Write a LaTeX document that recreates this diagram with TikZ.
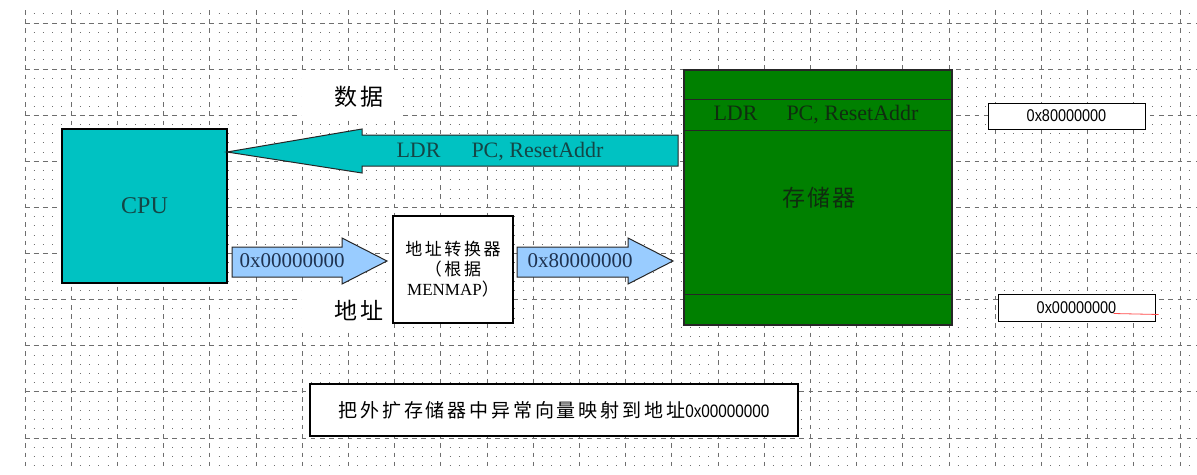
\documentclass[tikz,border=0pt]{standalone}
\usepackage{fontspec}
\setmainfont{Liberation Serif}
\newfontfamily\cjkfont[LetterSpace=9]{Noto Sans CJK SC}
\newfontfamily\cjkwide[LetterSpace=15]{Noto Sans CJK SC}
\newfontfamily\hexfont[FakeStretch=0.85]{Liberation Sans}
\usetikzlibrary{positioning}

\definecolor{cputeal}{RGB}{0,194,194}
\definecolor{memgreen}{RGB}{0,128,0}
\definecolor{addrblue}{RGB}{153,204,255}
\definecolor{gridgray}{RGB}{110,110,110}
\definecolor{tealtext}{RGB}{20,70,70}
\definecolor{greentext}{RGB}{15,45,15}
\definecolor{addrtext}{RGB}{30,50,80}

\begin{document}
\begin{tikzpicture}[
  x=1pt, y=-1pt,
  box/.style={rectangle, draw=black, line width=1.2pt, inner sep=0pt},
  cpubox/.style={box, fill=cputeal, text=tealtext, font=\fontsize{24}{24}\selectfont},
  membox/.style={box, fill=memgreen, draw=black!85},
  whitebox/.style={box, fill=white},
  hexbox/.style={whitebox, line width=1pt, font=\hexfont\fontsize{17}{17}\selectfont},
  tag/.style={inner sep=0pt, font=\cjkfont\fontsize{23}{23}\selectfont},
  memline/.style={black!85, line width=1.2pt},
  fatarrow/.style={draw=black!85, line width=1pt},
  minor/.style={gridgray, line width=0.8pt, dash pattern=on 0.9pt off 8.34pt},
  major/.style={gridgray, line width=0.7pt, dash pattern=on 4.5pt off 4.72pt}
]
\useasboundingbox (0,0) rectangle (1197,474);
\fill[white] (0,0) rectangle (1197,474);

% grid
\foreach \j in {-1,...,48}
  \draw[minor] (24.5,23+9.22*\j) -- (1197,23+9.22*\j);
\foreach \k in {0,...,9}
  \draw[major] (25,23+46.1*\k) -- (1197,23+46.1*\k);
\foreach \k in {0,...,25}
  \draw[major] (25+46.2*\k,10) -- (25+46.2*\k,468);

\fill[white] (302,73) rectangle (400,116);
\fill[white] (302,285) rectangle (393,332);
\node[tag] (datatag) at (359,97) {数据};
\node[tag] (addrtag) at (359,310) {地址};

\node[cpubox, minimum width=165, minimum height=154] (cpu) at (144.5,206) {CPU};

\node[membox, minimum width=268, minimum height=255] (mem) at (818,197.5) {};
\draw[memline] ([yshift=-30pt]mem.north west) -- ([yshift=-30pt]mem.north east);
\draw[memline] ([yshift=-61pt]mem.north west) -- ([yshift=-61pt]mem.north east);
\draw[memline] ([yshift=31pt]mem.south west) -- ([yshift=31pt]mem.south east);
\node[text=greentext, font=\fontsize{22}{22}\selectfont] (memldr) at (816,115) {LDR\hspace{29pt}PC, ResetAddr};
\node[tag, text=greentext] (memname) at (819,198) {存储器};

% data path
\draw[fatarrow, fill=cputeal] (227,152) -- (362,129) -- (362,135) -- (678,135)
  -- (678,166) -- (362,166) -- (362,173) -- cycle;
\node[text=tealtext, font=\fontsize{22}{22}\selectfont] (fetch) at (500,152) {LDR\hspace{31pt}PC, ResetAddr};

% address path
\draw[fatarrow, fill=addrblue] (232,247) -- (342,247) -- (342,238) -- (387,261)
  -- (342,284) -- (342,277) -- (232,277) -- cycle;
\node[text=addrtext, font=\fontsize{21}{21}\selectfont] (vaddr) at (292,261) {0x00000000};

\node[whitebox, minimum width=120, minimum height=107, align=center,
  font=\fontsize{17}{20}\selectfont] (conv) at (453,269.5)
  {{\cjkwide 地址转换器}\\{\cjkwide （根据}\\MENMAP{\cjkwide ）}};

\draw[fatarrow, fill=addrblue] (517,247) -- (628,247) -- (628,238) -- (673,261)
  -- (628,284) -- (628,277) -- (517,277) -- cycle;
\node[text=addrtext, font=\fontsize{21}{21}\selectfont] (paddr) at (580,261) {0x80000000};

\node[hexbox, minimum width=157, minimum height=26] (hiaddr) at (1066.5,116) {0x80000000};
\node[hexbox, minimum width=157, minimum height=27] (loaddr) at (1076.5,307.5) {0x00000000};
\draw[red!70, line width=0.8pt] ([xshift=-42pt, yshift=-6pt]loaddr.east) -- ([xshift=3pt, yshift=-7pt]loaddr.east);

\node[whitebox, minimum width=488, minimum height=52] (note) at (554,410)
  {{\cjkwide\fontsize{19}{19}\selectfont 把外扩存储器中异常向量映射到地址}{\hexfont\fontsize{18}{18}\selectfont 0x00000000}};

\end{tikzpicture}
\end{document}
